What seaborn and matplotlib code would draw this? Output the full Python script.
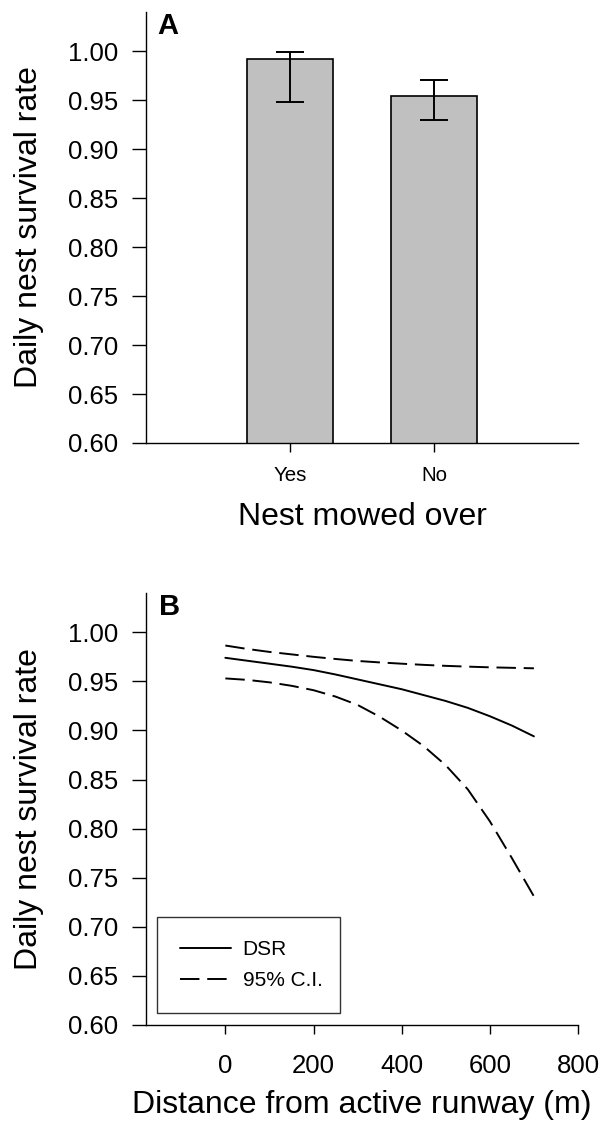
import numpy as np
import pandas as pd
import matplotlib
matplotlib.use("Agg")
import matplotlib.pyplot as plt
import seaborn as sns

# panel A data
mowed = ["Yes", "No"]
dsr_mowed = [0.9923, 0.9547]
ci_low_mowed = [0.948, 0.9298]
ci_high_mowed = [0.9989, 0.9709]

# panel B data
distance = [0, 50, 100, 150, 200, 250, 300, 350, 400, 450, 500, 550, 600, 650, 700]
dsr = [0.974, 0.971, 0.968, 0.965, 0.9615, 0.957, 0.952, 0.947, 0.942, 0.936,
       0.930, 0.923, 0.9145, 0.905, 0.894]
ci_upper = [0.9865, 0.983, 0.980, 0.9775, 0.975, 0.9728, 0.9708, 0.9693, 0.968,
            0.9668, 0.9658, 0.965, 0.9643, 0.9638, 0.9633]
ci_lower = [0.953, 0.9515, 0.949, 0.9455, 0.941, 0.9345, 0.926, 0.914, 0.900,
            0.884, 0.8645, 0.840, 0.8075, 0.770, 0.731]

sns.set_style("ticks")
plt.rcParams['font.family'] = ['Liberation Sans', 'DejaVu Sans']
plt.rcParams['text.color'] = 'black'
plt.rcParams['axes.labelcolor'] = 'black'
plt.rcParams['xtick.color'] = 'black'
plt.rcParams['ytick.color'] = 'black'

fig = plt.figure(figsize=(6.04, 11.28), dpi=100)
axA = fig.add_axes([146/604, 1-443/1128, 432/604, 431/1128])
axB = fig.add_axes([146/604, 1-1025/1128, 432/604, 432/1128])

dash = (0, (10, 4))

# ---- panel A: bars with error bars
dfA = pd.DataFrame({"mowed": mowed, "dsr": dsr_mowed})
sns.barplot(data=dfA, x="mowed", y="dsr", order=mowed, color="#c0c0c0",
            saturation=1, width=0.6, edgecolor="black", linewidth=1.2,
            errorbar=None, ax=axA)
yerr = [np.array(dsr_mowed) - np.array(ci_low_mowed),
        np.array(ci_high_mowed) - np.array(dsr_mowed)]
axA.errorbar(range(len(mowed)), dsr_mowed, yerr=yerr, fmt="none",
             ecolor="black", elinewidth=1.4, capsize=10, capthick=1.4)
axA.set_xlim(-1, 2)
axA.set_ylim(0.6, 1.04)
axA.set_yticks(np.arange(0.60, 1.001, 0.05))
axA.set_yticklabels([f"{v:.2f}" for v in np.arange(0.60, 1.001, 0.05)])
axA.set_xlabel("Nest mowed over", fontsize=23, labelpad=12)
axA.set_ylabel("Daily nest survival rate", fontsize=23, labelpad=17)
axA.tick_params(axis="x", labelsize=14.8, length=6.5, width=1, pad=10)
axA.text(0.025, 1.0, "A", transform=axA.transAxes, fontsize=21,
         fontweight="bold", va="top", ha="left")

# ---- panel B: DSR vs distance
sns.lineplot(x=distance, y=dsr, color="black", linewidth=1.4, label="DSR", ax=axB)
sns.lineplot(x=distance, y=ci_upper, color="black", linewidth=1.4,
             linestyle=dash, label="95% C.I.", ax=axB)
sns.lineplot(x=distance, y=ci_lower, color="black", linewidth=1.4,
             linestyle=dash, label="_nolegend_", ax=axB)
axB.set_xlim(-180, 800)
axB.set_ylim(0.6, 1.04)
axB.set_xticks([0, 200, 400, 600, 800])
axB.set_yticks(np.arange(0.60, 1.001, 0.05))
axB.set_yticklabels([f"{v:.2f}" for v in np.arange(0.60, 1.001, 0.05)])
axB.set_xlabel("Distance from active runway (m)", fontsize=23, labelpad=8.5)
axB.set_ylabel("Daily nest survival rate", fontsize=23, labelpad=17)
axB.tick_params(axis="x", labelsize=18.5, length=6.5, width=1, pad=14.5)
axB.text(0.03, 1.0, "B", transform=axB.transAxes, fontsize=21,
         fontweight="bold", va="top", ha="left")
leg = axB.legend(loc="lower left", bbox_to_anchor=(0.0245, 0.027, 0.4255, 0.2),
                 mode="expand", fontsize=15, frameon=True, fancybox=False,
                 handlelength=2.45, handletextpad=0.58, borderaxespad=0,
                 borderpad=1.1, labelspacing=0.58)
leg.get_frame().set_edgecolor("black")
leg.get_frame().set_linewidth(1.0)

for ax in (axA, axB):
    sns.despine(ax=ax)
    ax.spines["left"].set_linewidth(1.0)
    ax.spines["bottom"].set_linewidth(1.0)
    ax.spines["left"].set_color("black")
    ax.spines["bottom"].set_color("black")
    ax.tick_params(axis="y", labelsize=18.5, length=10, width=1, pad=10)

fig.savefig("out.png", dpi=100)
